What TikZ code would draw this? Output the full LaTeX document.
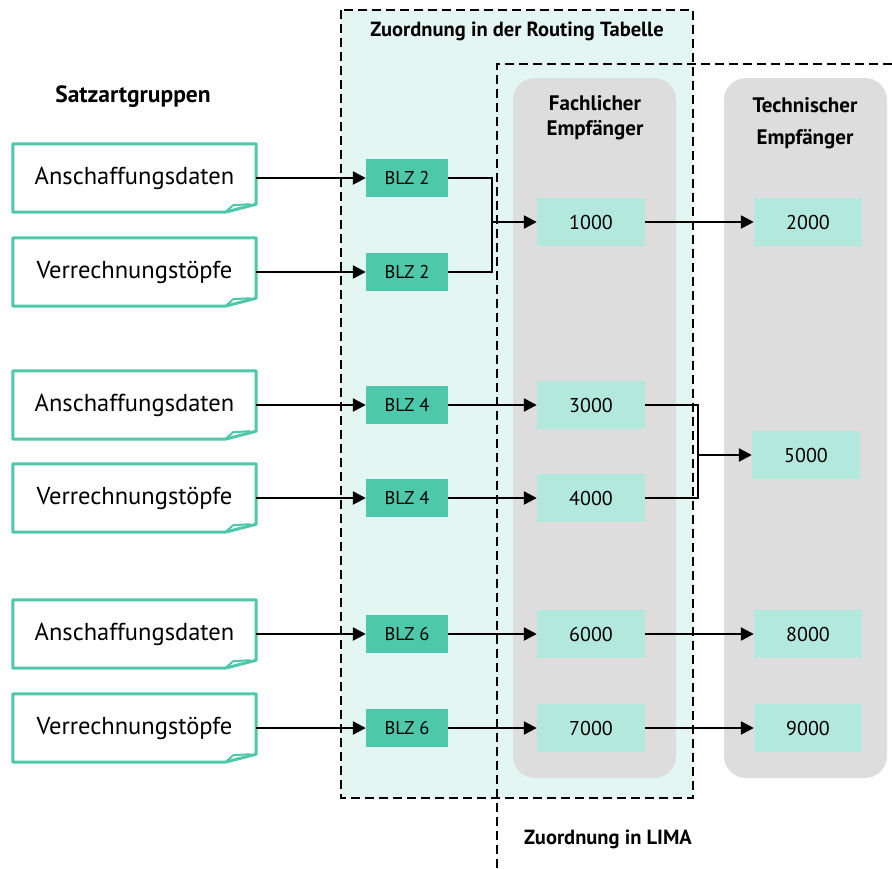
\documentclass[tikz,border=0pt]{standalone}
\usepackage{fontspec}
\setmainfont{PT Sans}
\usepackage{xcolor}
\usetikzlibrary{positioning,calc,arrows.meta}
\definecolor{srcline}{HTML}{4FC7A9}
\definecolor{blzfill}{HTML}{4EC8AA}
\definecolor{empfill}{HTML}{B3E8DC}
\definecolor{routefill}{HTML}{E4F6F1}
\definecolor{colgray}{HTML}{DDDDDD}

\begin{document}
\begin{tikzpicture}[x=1pt,y=-1pt,
    src/.style={minimum width=243pt, minimum height=68pt, inner sep=0pt, font=\fontsize{24.5}{29}\selectfont},
    blz/.style={fill=blzfill, minimum width=82pt, minimum height=38pt, inner sep=0pt, font=\fontsize{18.5}{22}\selectfont},
    emp/.style={fill=empfill, minimum width=108pt, minimum height=48pt, inner sep=0pt, font=\fontsize{20}{24}\selectfont},
    head/.style={font=\bfseries\fontsize{20.5}{25}\selectfont, align=center},
    zone/.style={dash pattern=on 9pt off 5pt, line width=2.2pt},
    conn/.style={line width=2.4pt, -{Triangle[length=13pt,width=13pt]}}]
    \useasboundingbox (0,0) rectangle (892,868);

    % boxes in the background
    \fill[routefill] (341,10) rectangle (693,798);
    \fill[colgray, rounded corners=22pt] (513,78) rectangle (676,778);
    \fill[colgray, rounded corners=22pt] (724,78) rectangle (887,778);
    \draw[zone] (341,10) rectangle (693,798);
    \draw[zone] (497,868) -- (497,64) -- (892,64);

    \node[head] (tRoute) at (517,31) {Zuordnung in der Routing Tabelle};
    \node[head] (tLima) at (608,839) {Zuordnung in LIMA};
    \node[head, font=\bfseries\fontsize{23.5}{28}\selectfont] (tSatz) at (133,97) {Satzartgruppen};
    \node[head, font=\bfseries\fontsize{21}{25}\selectfont] (tFach) at (595,118) {Fachlicher\\Empfänger};
    \node[head, font=\bfseries\fontsize{21}{25}\selectfont] (tTech) at (805,123) {Technischer\\[7pt]Empfänger};

    % Satzartgruppen
    \node[src] (s1) at (134.5,178) {Anschaffungsdaten};
    \node[src] (s2) at (134.5,272) {Verrechnungstöpfe};
    \node[src] (s3) at (134.5,405) {Anschaffungsdaten};
    \node[src] (s4) at (134.5,498) {Verrechnungstöpfe};
    \node[src] (s5) at (134.5,634) {Anschaffungsdaten};
    \node[src] (s6) at (134.5,728) {Verrechnungstöpfe};
    \foreach \s in {s1,s2,s3,s4,s5,s6} {
        \draw[srcline, line width=3pt, line join=round]
            (\s.north west) -- (\s.north east) -- ($(\s.south east)+(0,-8)$)
            -- ($(\s.south east)+(-31,0)$) -- (\s.south west) -- cycle;
        \draw[srcline, line width=2pt, line join=round]
            ($(\s.south east)+(-31,0)$) -- ($(\s.south east)+(-23,-7)$) -- ($(\s.south east)+(-6,-8)$);
    }

    % BLZ
    \node[blz] (b1) at (407,178) {BLZ 2};
    \node[blz] (b2) at (407,272) {BLZ 2};
    \node[blz] (b3) at (407,405) {BLZ 4};
    \node[blz] (b4) at (407,498) {BLZ 4};
    \node[blz] (b5) at (407,634) {BLZ 6};
    \node[blz] (b6) at (407,728) {BLZ 6};

    % Fachlicher Empfaenger
    \node[emp] (f1) at (591,222) {1000};
    \node[emp] (f3) at (591,405) {3000};
    \node[emp] (f4) at (591,498) {4000};
    \node[emp] (f6) at (591,634) {6000};
    \node[emp] (f7) at (591,728) {7000};

    % Technischer Empfaenger
    \node[emp] (t2) at (808,222) {2000};
    \node[emp] (t5) at (806,455) {5000};
    \node[emp] (t8) at (808,634) {8000};
    \node[emp] (t9) at (808,728) {9000};

    \foreach \i in {1,...,6} {
        \draw[conn] (s\i.east) -- (b\i.west);
    }

    \coordinate (m1) at (492,222);
    \coordinate (m5) at (698,455);
    \draw[line width=2.4pt] (b1.east) -| (m1) |- (b2.east);
    \draw[conn] (m1) -- (f1.west);
    \draw[conn] (b3.east) -- (f3.west);
    \draw[conn] (b4.east) -- (f4.west);
    \draw[conn] (b5.east) -- (f6.west);
    \draw[conn] (b6.east) -- (f7.west);

    \draw[conn] (f1.east) -- (t2.west);
    \draw[line width=2.4pt] (f3.east) -| (m5) |- (f4.east);
    \draw[conn] (m5) -- (t5.west);
    \draw[conn] (f6.east) -- (t8.west);
    \draw[conn] (f7.east) -- (t9.west);
\end{tikzpicture}
\end{document}
